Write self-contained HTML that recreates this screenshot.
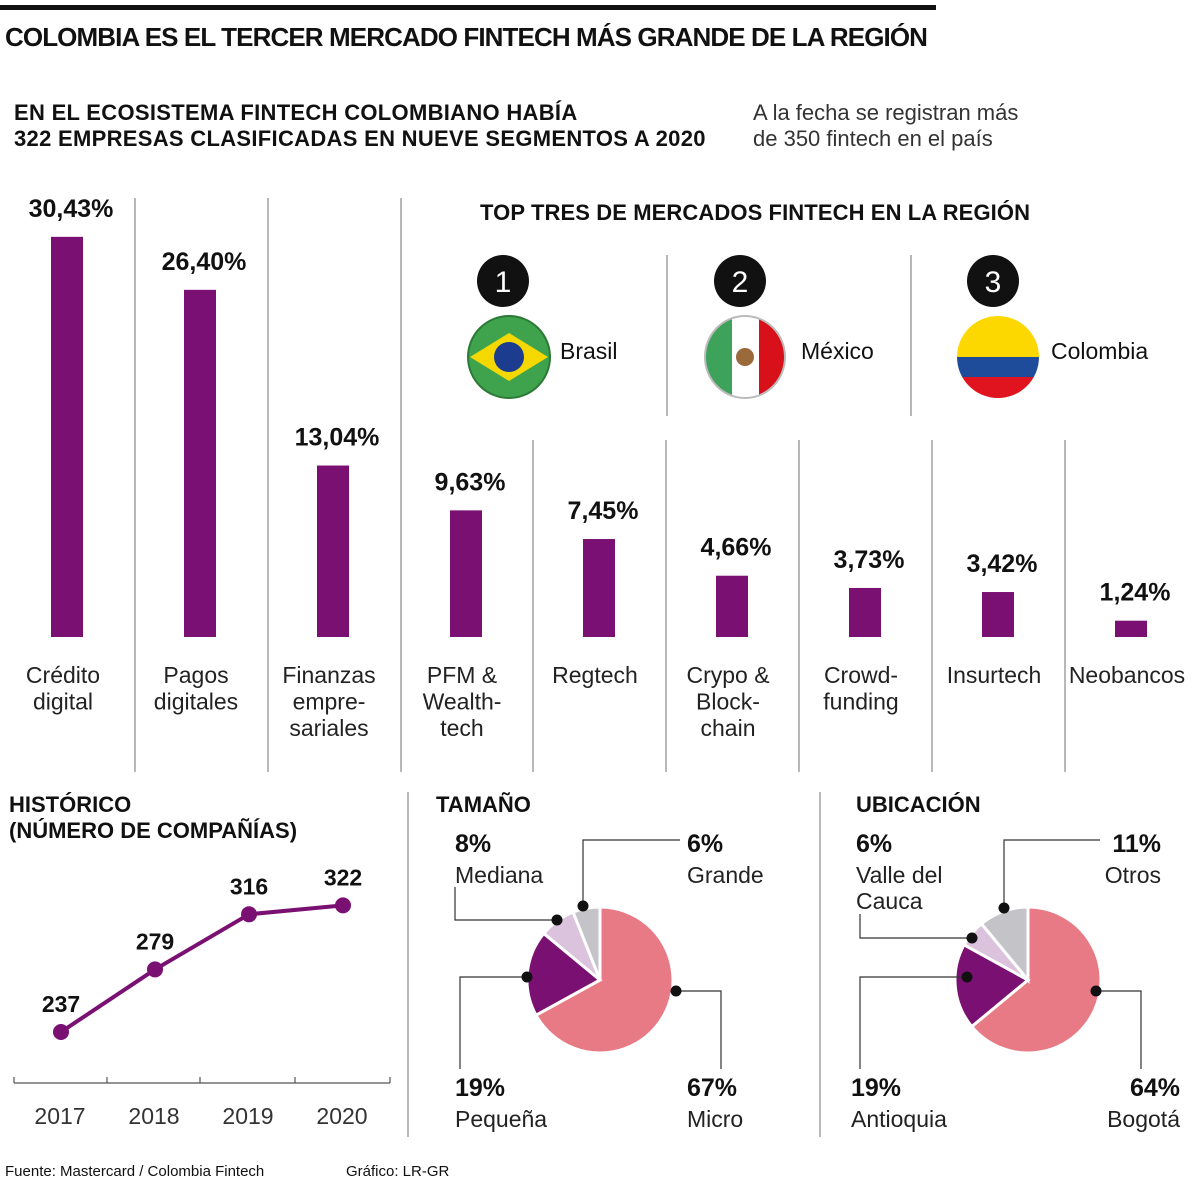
<!DOCTYPE html>
<html><head><meta charset="utf-8">
<style>
body{margin:0;background:#fff;}
#root{position:relative;width:1200px;height:1182px;overflow:hidden;font-family:"Liberation Sans",sans-serif;color:#111;}
.t{position:absolute;white-space:nowrap;}
.b{font-weight:bold;}
svg{position:absolute;left:0;top:0;}
</style></head><body>
<div id="root">
<div style="position:absolute;left:0;top:5px;width:936px;height:5px;background:#111"></div>
<div class="t b" style="left:5px;top:22px;font-size:26px;letter-spacing:-0.9px">COLOMBIA ES EL TERCER MERCADO FINTECH MÁS GRANDE DE LA REGIÓN</div>
<div class="t b" style="left:14px;top:100px;font-size:22px;line-height:26px;letter-spacing:0.3px">EN EL ECOSISTEMA FINTECH COLOMBIANO HABÍA<br>322 EMPRESAS CLASIFICADAS EN NUEVE SEGMENTOS A 2020</div>
<div class="t" style="left:753px;top:100px;font-size:22px;line-height:26px;color:#333">A la fecha se registran más<br>de 350 fintech en el país</div>
<div class="t b" style="left:480px;top:200px;font-size:22px;letter-spacing:0.1px">TOP TRES DE MERCADOS FINTECH EN LA REGIÓN</div>
<div class="t" style="left:560px;top:338px;font-size:23px">Brasil</div>
<div class="t" style="left:801px;top:338px;font-size:23px">México</div>
<div class="t" style="left:1051px;top:338px;font-size:23px">Colombia</div>
<div class="t b" style="left:9px;top:792px;font-size:22px;line-height:26px">HISTÓRICO<br>(NÚMERO DE COMPAÑÍAS)</div>
<div class="t b" style="left:436px;top:792px;font-size:22px">TAMAÑO</div>
<div class="t b" style="left:856px;top:792px;font-size:22px">UBICACIÓN</div>
<div class="t" style="left:5px;top:1163px;font-size:15px">Fuente: Mastercard / Colombia Fintech</div>
<div class="t" style="left:346px;top:1163px;font-size:15px">Gráfico: LR-GR</div>
<svg id="svg" width="1200" height="1182"></svg>
</div>
<script>
const categories=["Crédito\ndigital","Pagos\ndigitales","Finanzas\nempre-\nsariales","PFM &\nWealth-\ntech","Regtech","Crypo &\nBlock-\nchain","Crowd-\nfunding","Insurtech","Neobancos"];
const shares=[30.43,26.40,13.04,9.63,7.45,4.66,3.73,3.42,1.24];
const years=["2017","2018","2019","2020"];
const companies=[237,279,316,322];
const sizeLabels=["Micro","Pequeña","Mediana","Grande"];
const sizeValues=[67,19,8,6];
const locLabels=["Bogotá","Antioquia","Valle del Cauca","Otros"];
const locValues=[64,19,6,11];
const pieColors=["#e87a85","#7a1072","#dcc3dd","#c4c4c8"];
const NS="http://www.w3.org/2000/svg";
const svg=document.getElementById('svg');
function mk(tag,attrs,parent){const e=document.createElementNS(NS,tag);for(const k in attrs)e.setAttribute(k,attrs[k]);(parent||svg).appendChild(e);return e;}
function txt(x,y,s,size,weight,anchor,fill){const e=mk('text',{x:x,y:y,'font-size':size,'font-weight':weight||'normal','text-anchor':anchor||'middle',fill:fill||'#111','font-family':'Liberation Sans, sans-serif'});e.textContent=s;return e;}
const divX=[135,268,401,533,666,799,932,1065];
divX.forEach((x,i)=>{const l=mk('line',{x1:x,x2:x,y1:i<3?198:440,y2:772,stroke:'#888','stroke-width':1.2});

});
[[667,255,416],[911,255,416],[408,792,1137],[820,792,1137]].forEach(d=>{const l=mk('line',{x1:d[0],x2:d[0],y1:d[1],y2:d[2],stroke:'#888','stroke-width':1.2});

});
const base=637,pxPer=13.15,colW=133,col0=0;
const xc=i=>col0+colW*i+67;
const yv=v=>base-v*pxPer;
shares.forEach((v,i)=>{
 const r=mk('rect',{x:xc(i)-16,y:yv(v),width:32,height:base-yv(v),fill:'#7a1072'});
 
 
 const t=txt(xc(i)+4,yv(v)-20,v.toFixed(2).replace('.',',')+'%','25','bold');
 
 
 categories[i].split('\n').forEach((s,j)=>{const c=txt(xc(i)-4,683+j*26.5,s,'23','normal','middle','#222');
 
 });
});
[[503,'1'],[740,'2'],[993,'3']].forEach(d=>{const c=mk('circle',{cx:d[0],cy:281,r:26,fill:'#111'});


txt(d[0],292,d[1],'30','normal','middle','#fff');});
const g1=mk('g',{});
mk('ellipse',{cx:509,cy:357,rx:41,ry:41,fill:'#3fa34d',stroke:'#2b7a35','stroke-width':2},g1);
mk('polygon',{points:'470,357 509,333 548,357 509,381',fill:'#f5d800'},g1);
mk('circle',{cx:509,cy:357,r:15,fill:'#1b3c8f'},g1);
const g2=mk('g',{});
mk('clipPath',{id:'cm'},g2);mk('ellipse',{cx:745,cy:357,rx:40,ry:41},document.getElementById('cm'));
mk('rect',{x:705,y:316,width:27,height:82,fill:'#3da35a','clip-path':'url(#cm)'},g2);
mk('rect',{x:732,y:316,width:27,height:82,fill:'#fff','clip-path':'url(#cm)'},g2);
mk('rect',{x:759,y:316,width:27,height:82,fill:'#d7101a','clip-path':'url(#cm)'},g2);
mk('circle',{cx:745,cy:357,r:9,fill:'#9a6a3a'},g2);
mk('ellipse',{cx:745,cy:357,rx:40,ry:41,fill:'none',stroke:'#bbb','stroke-width':2},g2);
const g3=mk('g',{});
mk('clipPath',{id:'cc'},g3);mk('ellipse',{cx:998,cy:357,rx:41,ry:41},document.getElementById('cc'));
mk('rect',{x:956,y:316,width:84,height:41,fill:'#fdd800','clip-path':'url(#cc)'},g3);
mk('rect',{x:956,y:357,width:84,height:20,fill:'#1f4b9b','clip-path':'url(#cc)'},g3);
mk('rect',{x:956,y:377,width:84,height:22,fill:'#e0141e','clip-path':'url(#cc)'},g3);
const lx=i=>61+i*94;
const ly=v=>1032-(v-237)*1.49;
const ax=mk('line',{x1:14,x2:390,y1:1083,y2:1083,stroke:'#555','stroke-width':1.2});

[14,107,200,295,390].forEach(x=>mk('line',{x1:x,x2:x,y1:1077,y2:1083,stroke:'#555','stroke-width':1.2}));
const pts=companies.map((v,i)=>lx(i)+','+ly(v)).join(' ');
const pl=mk('polyline',{points:pts,fill:'none',stroke:'#7a1072','stroke-width':4});

companies.forEach((v,i)=>{const c=mk('circle',{cx:lx(i),cy:ly(v),r:8,fill:'#7a1072'});

const t=txt(lx(i),ly(v)-20,String(v),'23','bold');

const y=txt(lx(i)-1,1124,years[i],'23','normal','middle','#333');
});
function pie(cx,cy,vals,name){
 const tot=vals.reduce((a,b)=>a+b,0);let a0=0;
 vals.forEach((v,i)=>{const a1=a0+v/tot*2*Math.PI;
  const p=(a)=>[cx+73*Math.sin(a),cy-73*Math.cos(a)];
  const s=p(a0),e=p(a1);
  const path=mk('path',{d:`M${cx},${cy}L${s[0]},${s[1]}A73,73 0 ${a1-a0>Math.PI?1:0} 1 ${e[0]},${e[1]}Z`,fill:pieColors[i],stroke:'#fff','stroke-width':3});
  
  
  a0=a1;});
}
pie(600,980,sizeValues,'size');
pie(1028,980,locValues,'location');
function lead(pts,dot){mk('polyline',{points:pts,fill:'none',stroke:'#333','stroke-width':1.2});mk('circle',{cx:dot[0],cy:dot[1],r:5.5,fill:'#111'});}
lead('676,991 721,991 721,1069',[676,991]);
lead('527,977 460,977 460,1069',[527,977]);
lead('557,920 455,920 455,887',[557,920]);
lead('583,906 583,840 680,840',[583,906]);
lead('1096,991 1141,991 1141,1069',[1096,991]);
lead('967,977 860,977 860,1069',[967,977]);
lead('972,938 860,938 860,914',[972,938]);
lead('1004,908 1004,840 1100,840',[1004,908]);
function lbl(x,y,p,n,anchor){const a=txt(x,y,p,'25','bold',anchor||'start');
 n.split('\n').forEach((s,j)=>{const b=txt(x,y+31+j*26,s,'23','normal',anchor||'start','#222');});}
lbl(455,852,sizeValues[2]+'%',sizeLabels[2]);
lbl(687,852,sizeValues[3]+'%',sizeLabels[3]);
lbl(455,1096,sizeValues[1]+'%',sizeLabels[1]);
lbl(687,1096,sizeValues[0]+'%',sizeLabels[0]);
lbl(856,852,locValues[2]+'%','Valle del\nCauca');
lbl(1161,852,locValues[3]+'%',locLabels[3],'end');
lbl(851,1096,locValues[1]+'%',locLabels[1]);
lbl(1180,1096,locValues[0]+'%',locLabels[0],'end');
</script>
</body></html>
